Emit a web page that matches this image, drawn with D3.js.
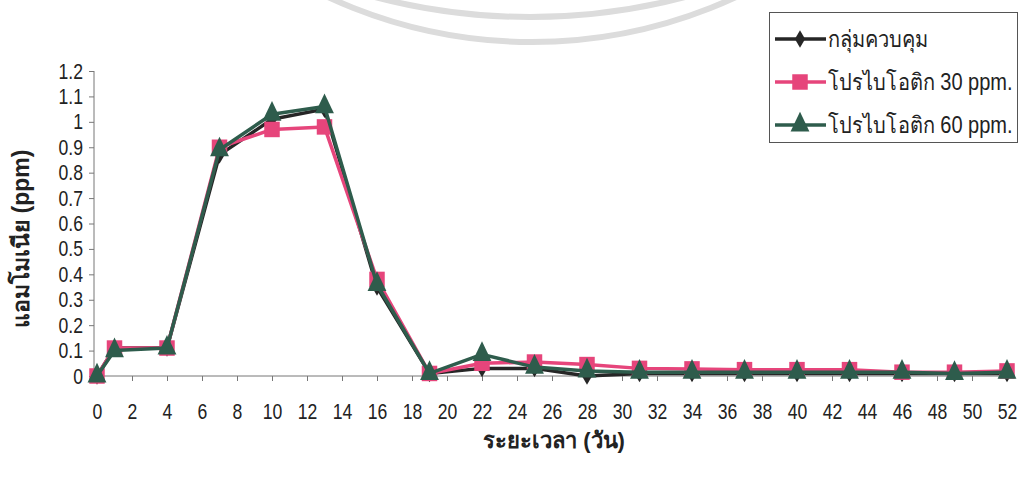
<!DOCTYPE html>
<html>
<head>
<meta charset="utf-8">
<script src="https://cdn.jsdelivr.net/npm/d3@7"></script>
<style>
  html, body { margin: 0; padding: 0; background: #fff; }
  svg { display: block; }
  .tick text { font-family: "Liberation Sans", Arial, sans-serif; fill: #222; }
</style>
</head>
<body>
<svg id="chart" width="1024" height="477"></svg>
<script>
// ---- data ----
const days = [0, 1, 4, 7, 10, 13, 16, 19, 22, 25, 28, 31, 34, 37, 40, 43, 46, 49, 52];
const seriesNames = ["กลุ่มควบคุม", "โปรไบโอติก 30 ppm.", "โปรไบโอติก 60 ppm."];
const controlValues = [0.00, 0.11, 0.11, 0.87, 1.01, 1.05, 0.35, 0.01, 0.03, 0.03, 0.00, 0.01, 0.01, 0.01, 0.01, 0.01, 0.01, 0.01, 0.01];
const probiotic30Values = [0.00, 0.11, 0.11, 0.90, 0.97, 0.98, 0.38, 0.01, 0.05, 0.055, 0.045, 0.03, 0.028, 0.025, 0.025, 0.025, 0.015, 0.015, 0.02];
const probiotic60Values = [0.00, 0.10, 0.11, 0.89, 1.03, 1.06, 0.36, 0.01, 0.085, 0.035, 0.02, 0.015, 0.015, 0.015, 0.015, 0.015, 0.015, 0.01, 0.015];
const xTicks = d3.range(0, 53, 2);
const yTicks = [0, 0.1, 0.2, 0.3, 0.4, 0.5, 0.6, 0.7, 0.8, 0.9, 1, 1.1, 1.2];
const yTitle = "แอมโมเนีย (ppm)";
const xTitle = "ระยะเวลา (วัน)";

// ---- layout ----
const svg = d3.select("#chart");
const x = d3.scaleLinear().domain([0, 52]).range([97, 1007]);
const y = d3.scaleLinear().domain([0, 1.2]).range([376, 71]);
const font = '"Liberation Sans", Arial, sans-serif';
const squeeze = 0.8;

// watermark arcs (scanned page decoration)
const arcs = [
  {cx: 532, cy: -443, r: 485},
  {cx: 530, cy: -593, r: 610}
];
svg.append("g").selectAll("circle").data(arcs).join("circle")
  .attr("cx", d => d.cx).attr("cy", d => d.cy).attr("r", d => d.r)
  .attr("fill", "none").attr("stroke", "#dcdcdc").attr("stroke-width", 6);

// axes
const yAxis = svg.append("g").attr("transform", `translate(${x(0) - 3},0)`)
  .call(d3.axisLeft(y).tickValues(yTicks).tickSize(5).tickFormat(d => d3.format("")(d)));
yAxis.select(".domain").attr("stroke", "#777").attr("d", `M0,${y(1.2)}V${y(0)}`);
yAxis.selectAll(".tick line").attr("stroke", "#777");
yAxis.selectAll(".tick text").attr("font-size", 22).attr("x", 0)
  .attr("transform", `translate(-11,0) scale(${squeeze},1)`);

const xAxis = svg.append("g").attr("transform", `translate(0,${y(0)})`)
  .call(d3.axisBottom(x).tickValues(xTicks).tickSize(5).tickPadding(22));
xAxis.select(".domain").attr("stroke", "#777").attr("d", `M${x(0) - 3},0H1015`);
xAxis.selectAll(".tick line").attr("stroke", "#777");
xAxis.selectAll(".tick text").attr("font-size", 22).attr("x", 0)
  .attr("transform", `scale(${squeeze},1)`);

// series
const colors = ["#262626", "#e6457b", "#2e5c4c"];
const allValues = [controlValues, probiotic30Values, probiotic60Values];
const series = allValues.map((vals, i) => ({
  name: seriesNames[i], color: colors[i], shape: i,
  points: days.map((d, j) => ({day: d, v: vals[j]}))
}));

const line = d3.line().x(d => x(d.day)).y(d => y(d.v));
const symbolPath = [
  d3.symbol().type(d3.symbolDiamond).size(90)(),
  d3.symbol().type(d3.symbolSquare).size(240)(),
  d3.symbol().type(d3.symbolTriangle).size(170)()
];

series.forEach(s => {
  const g = svg.append("g");
  g.append("path").datum(s.points).attr("d", line)
    .attr("fill", "none").attr("stroke", s.color).attr("stroke-width", 3.5)
    .attr("stroke-linejoin", "round");
  g.selectAll("path.m").data(s.points).join("path").attr("class", "m")
    .attr("d", symbolPath[s.shape])
    .attr("transform", d => `translate(${x(d.day)},${y(d.v)})${s.shape === 2 ? " scale(0.95,1.15)" : ""}`)
    .attr("fill", s.color);
});

// legend
const lg = svg.append("g");
lg.append("rect").attr("x", 769.5).attr("y", 12.5).attr("width", 248).attr("height", 130)
  .attr("fill", "#fff").attr("stroke", "#555").attr("stroke-width", 1);
series.forEach((s, i) => {
  const cy = 39 + i * 43;
  lg.append("line").attr("x1", 775).attr("x2", 826).attr("y1", cy).attr("y2", cy)
    .attr("stroke", s.color).attr("stroke-width", 3.5);
  lg.append("path").attr("d", symbolPath[s.shape])
    .attr("transform", `translate(800,${cy})${s.shape === 2 ? " scale(0.95,1.15)" : ""}`)
    .attr("fill", s.color);
  lg.append("text").attr("transform", `translate(828,${cy + 8}) scale(0.87,1)`).text(s.name)
    .attr("font-family", font).attr("font-size", 23).attr("fill", "#222");
});

// titles
svg.append("text").attr("transform", `translate(29,${y(0.54)}) rotate(-90)`)
  .attr("text-anchor", "middle").attr("font-family", font).attr("font-weight", "bold")
  .attr("font-size", 23).attr("fill", "#222").text(yTitle);
svg.append("text").attr("x", 554).attr("y", 448)
  .attr("text-anchor", "middle").attr("font-family", font).attr("font-weight", "bold")
  .attr("font-size", 22).attr("fill", "#222").text(xTitle);
</script>
</body>
</html>
